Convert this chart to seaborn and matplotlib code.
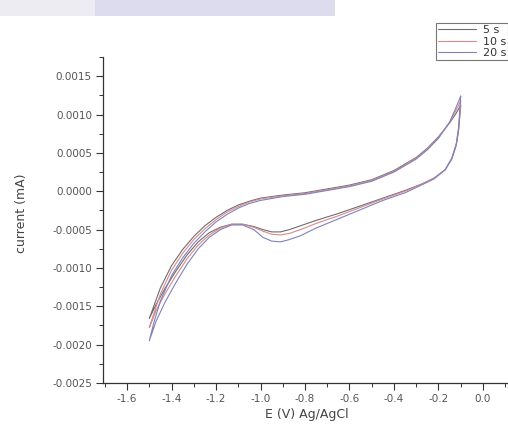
import numpy as np
import pandas as pd
import matplotlib
matplotlib.use("Agg")
import matplotlib.pyplot as plt
from matplotlib.patches import Rectangle
from matplotlib.lines import Line2D
from matplotlib.ticker import MultipleLocator, FormatStrFormatter
import seaborn as sns

# ---- data (E in V vs Ag/AgCl, current in mA) ----
series_names = ["5 s", "10 s", "20 s"]

E_5 = [-0.10, -0.105, -0.11, -0.12, -0.14, -0.17, -0.22, -0.27, -0.35, -0.45, -0.55, -0.65,
       -0.75, -0.82, -0.87, -0.91, -0.95, -0.99, -1.03, -1.08, -1.13, -1.18, -1.23, -1.28,
       -1.33, -1.38, -1.43, -1.47, -1.50,
       -1.48, -1.45, -1.40, -1.35, -1.30, -1.25, -1.20, -1.15, -1.10, -1.05, -1.00, -0.90,
       -0.80, -0.70, -0.60, -0.50, -0.40, -0.30, -0.25, -0.20, -0.15, -0.12, -0.10]
I_5 = [0.00112, 0.00095, 0.00078, 0.00060, 0.00042, 0.00028, 0.00017, 0.00010, 0.00001,
       -0.00009, -0.00019, -0.00029, -0.00038, -0.00045, -0.00050, -0.00053, -0.00053,
       -0.00050, -0.00046, -0.00043, -0.00043, -0.00047, -0.00054, -0.00066, -0.00083,
       -0.00104, -0.00127, -0.00148, -0.00166,
       -0.00150, -0.00126, -0.00097, -0.00076, -0.00059, -0.00045, -0.00034, -0.00025,
       -0.00018, -0.00013, -0.00009, -0.00005, -0.00002, 0.00003, 0.00008, 0.00015,
       0.00027, 0.00044, 0.00056, 0.00071, 0.00089, 0.00102, 0.00112]

E_10 = [-0.10, -0.105, -0.11, -0.12, -0.14, -0.17, -0.22, -0.27, -0.35, -0.45, -0.55, -0.65,
        -0.75, -0.82, -0.87, -0.91, -0.95, -0.99, -1.03, -1.08, -1.13, -1.18, -1.23, -1.28,
        -1.33, -1.38, -1.43, -1.47, -1.50,
        -1.48, -1.45, -1.40, -1.35, -1.30, -1.25, -1.20, -1.15, -1.10, -1.05, -1.00, -0.90,
        -0.80, -0.70, -0.60, -0.50, -0.40, -0.30, -0.25, -0.20, -0.15, -0.12, -0.10]
I_10 = [0.00118, 0.00098, 0.00080, 0.00061, 0.00043, 0.00028, 0.00017, 0.00010, 0.00000,
        -0.00010, -0.00021, -0.00032, -0.00042, -0.00050, -0.00055, -0.00057, -0.00056,
        -0.00052, -0.00047, -0.00043, -0.00043, -0.00048, -0.00057, -0.00070, -0.00088,
        -0.00110, -0.00134, -0.00156, -0.00178,
        -0.00160, -0.00134, -0.00103, -0.00081, -0.00063, -0.00049, -0.00037, -0.00027,
        -0.00020, -0.00014, -0.00010, -0.00006, -0.00003, 0.00002, 0.00007, 0.00014,
        0.00026, 0.00043, 0.00055, 0.00070, 0.00090, 0.00106, 0.00118]

E_20 = [-0.10, -0.105, -0.11, -0.12, -0.14, -0.17, -0.22, -0.27, -0.35, -0.45, -0.55, -0.65,
        -0.75, -0.82, -0.87, -0.91, -0.95, -0.99, -1.03, -1.08, -1.13, -1.18, -1.23, -1.28,
        -1.33, -1.38, -1.43, -1.47, -1.50,
        -1.48, -1.45, -1.40, -1.35, -1.30, -1.25, -1.20, -1.15, -1.10, -1.05, -1.00, -0.90,
        -0.80, -0.70, -0.60, -0.50, -0.40, -0.30, -0.25, -0.20, -0.15, -0.12, -0.10]
I_20 = [0.00124, 0.00102, 0.00082, 0.00062, 0.00043, 0.00028, 0.00016, 0.00009, -0.00002,
        -0.00012, -0.00024, -0.00036, -0.00048, -0.00058, -0.00063, -0.00066, -0.00065,
        -0.00060, -0.00050, -0.00044, -0.00044, -0.00050, -0.00060, -0.00075, -0.00095,
        -0.00119, -0.00145, -0.00170, -0.00195,
        -0.00172, -0.00143, -0.00110, -0.00087, -0.00068, -0.00053, -0.00040, -0.00030,
        -0.00022, -0.00016, -0.00012, -0.00007, -0.00004, 0.00001, 0.00006, 0.00013,
        0.00025, 0.00042, 0.00054, 0.00069, 0.00090, 0.00110, 0.00124]

colors = ["#6e6e6e", "#d98a8a", "#8080c0"]

frames = []
for name, E, I in zip(series_names, [E_5, E_10, E_20], [I_5, I_10, I_20]):
    frames.append(pd.DataFrame({"E": E, "I": I, "series": name}))
df = pd.concat(frames, ignore_index=True)

sns.set_theme(style="ticks")
plt.rcParams["font.family"] = ["DejaVu Sans"]

W, H = 508, 432
fig = plt.figure(figsize=(W / 100, H / 100), dpi=100)

# faint strip from scanned page at top
fig.add_artist(Rectangle((0, 1 - 16 / H), 95 / W, 16 / H, transform=fig.transFigure,
                         facecolor="#ececf2", edgecolor="none", zorder=0))
fig.add_artist(Rectangle((95 / W, 1 - 16 / H), 240 / W, 16 / H, transform=fig.transFigure,
                         facecolor="#dcdcee", edgecolor="none", zorder=0))

ax = fig.add_axes([103 / W, 49 / H, 408 / W, 326 / H])
sns.lineplot(data=df, x="E", y="I", hue="series", hue_order=series_names,
             palette=colors, sort=False, estimator=None, units="series",
             linewidth=0.8, ax=ax, legend=False)

ax.set_xlim(-1.708, 0.126)
ax.set_ylim(-0.0025, 0.00175)
ax.xaxis.set_major_locator(MultipleLocator(0.2))
ax.xaxis.set_minor_locator(MultipleLocator(0.1))
ax.yaxis.set_major_locator(MultipleLocator(0.0005))
ax.yaxis.set_minor_locator(MultipleLocator(0.00025))
ax.xaxis.set_major_formatter(FormatStrFormatter("%.1f"))
ax.yaxis.set_major_formatter(FormatStrFormatter("%.4f"))
ax.tick_params(which="major", length=5, width=0.8, labelsize=7.5, color="#333333",
               labelcolor="#555555", pad=3)
ax.tick_params(which="minor", length=3, width=0.7, color="#333333")
for s in ["top", "right"]:
    ax.spines[s].set_visible(False)
for s in ["left", "bottom"]:
    ax.spines[s].set_linewidth(0.9)
    ax.spines[s].set_color("#333333")

ax.set_xlabel("E (V) Ag/AgCl", fontsize=9, color="#444444", labelpad=3)
ax.set_ylabel("current (mA)", fontsize=9, color="#444444")
ax.yaxis.set_label_coords(-0.185, 0.52)

handles = [Line2D([], [], color=c, lw=0.8) for c in colors]
leg = fig.legend(handles, series_names, loc="upper left",
                 bbox_to_anchor=(436 / W, 1 - 23 / H), fontsize=8, frameon=True,
                 fancybox=False, handlelength=3.4, handletextpad=0.6,
                 labelspacing=0.12, borderpad=0.2, borderaxespad=0)
leg.get_frame().set_edgecolor("#555555")
leg.get_frame().set_linewidth(0.8)
for t in leg.get_texts():
    t.set_color("#333333")

fig.savefig("out.png", dpi=100)
